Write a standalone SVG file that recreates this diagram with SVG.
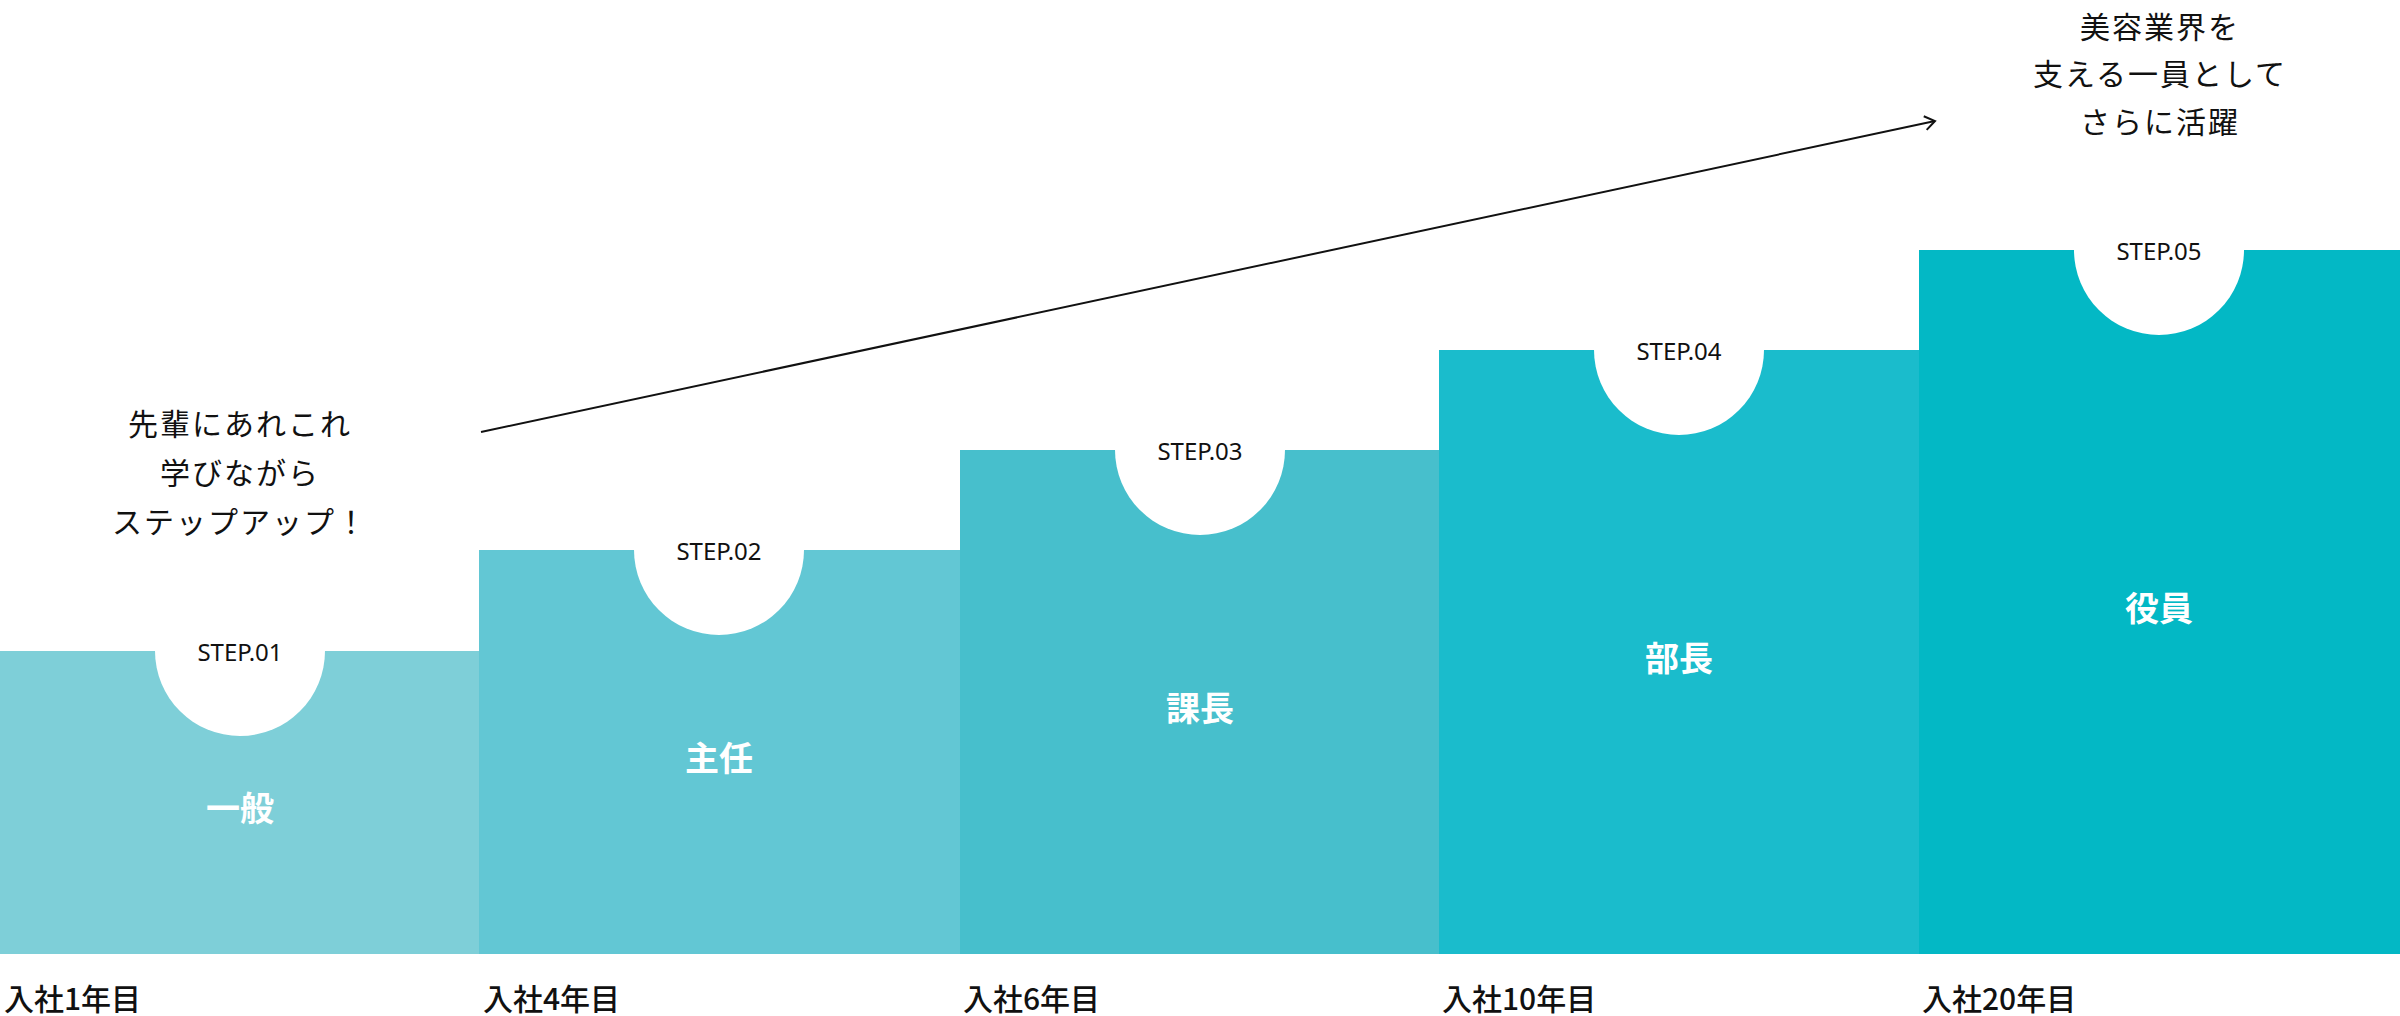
<svg xmlns="http://www.w3.org/2000/svg" width="2400" height="1016" viewBox="0 0 2400 1016">
<defs>
<style>
.step{font-family:"Noto Sans","Liberation Sans",sans-serif;font-size:24px;fill:#111;text-anchor:middle}
.role{font-family:"Noto Sans CJK JP",sans-serif;font-size:34px;font-weight:bold;fill:#fff;text-anchor:middle;dominant-baseline:central}
.year{font-family:"Noto Sans CJK JP",sans-serif;font-size:30px;font-weight:500;fill:#111}
.msg{font-family:"Noto Sans CJK JP",sans-serif;font-size:30px;fill:#111;text-anchor:middle;letter-spacing:2px}
.hole{fill:#fff}
</style>
<marker id="ah" viewBox="0 0 20 20" refX="18" refY="10" markerWidth="20" markerHeight="20" markerUnits="userSpaceOnUse" orient="auto"><path d="M8,3 L18,10 L8,17" fill="none" stroke="#111" stroke-width="2"/></marker>
</defs>
<rect width="2400" height="1016" fill="#fff"/>
<g id="step1"><rect x="0" y="651" width="480" height="303" fill="#7ecfd8"/><circle class="hole" cx="240" cy="651" r="85"/><text class="step" x="240" y="661">STEP.01</text><text class="role" x="240" y="806">一般</text><text class="year" x="4" y="1010">入社1年目</text></g>
<g id="step2"><rect x="479" y="550" width="481" height="404" fill="#62c7d4"/><circle class="hole" cx="719" cy="550" r="85"/><text class="step" x="719" y="560">STEP.02</text><text class="role" x="719" y="756">主任</text><text class="year" x="483" y="1010">入社4年目</text></g>
<g id="step3"><rect x="960" y="450" width="480" height="504" fill="#47bfcc"/><circle class="hole" cx="1200" cy="450" r="85"/><text class="step" x="1200" y="460">STEP.03</text><text class="role" x="1200" y="706">課長</text><text class="year" x="963" y="1010">入社6年目</text></g>
<g id="step4"><rect x="1439" y="350" width="481" height="604" fill="#1abccc"/><circle class="hole" cx="1679" cy="350" r="85"/><text class="step" x="1679" y="360">STEP.04</text><text class="role" x="1679" y="656">部長</text><text class="year" x="1442" y="1010">入社10年目</text></g>
<g id="step5"><rect x="1919" y="250" width="481" height="704" fill="#03b8c5"/><circle class="hole" cx="2159" cy="250" r="85"/><text class="step" x="2159" y="260">STEP.05</text><text class="role" x="2159" y="606">役員</text><text class="year" x="1922" y="1010">入社20年目</text></g>
<g id="msg-left"><text class="msg" x="240" y="435">先輩にあれこれ</text><text class="msg" x="240" y="484">学びながら</text><text class="msg" x="240" y="533">ステップアップ！</text></g>
<g id="msg-right"><text class="msg" x="2160" y="38">美容業界を</text><text class="msg" x="2160" y="85">支える一員として</text><text class="msg" x="2160" y="133">さらに活躍</text></g>
<g id="connectors"><line x1="481" y1="432" x2="1935" y2="121" stroke="#111" stroke-width="2" marker-end="url(#ah)"/></g>
</svg>
